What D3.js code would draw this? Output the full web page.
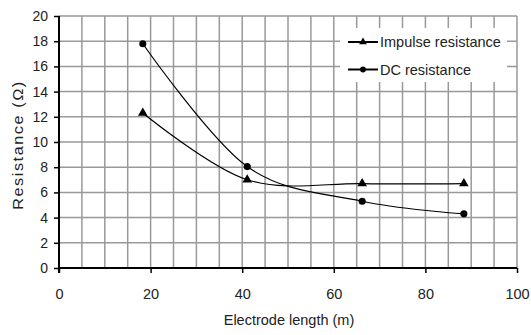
<!DOCTYPE html>
<html>
<head>
<meta charset="utf-8">
<script src="https://cdn.jsdelivr.net/npm/d3@7"></script>
<style>
  body { margin: 0; background: #fff; }
  svg { font-family: "Liberation Sans", Arial, sans-serif; }
</style>
</head>
<body>
<div id="chart"></div>
<script>
// data
const lengths = [18.3, 41.1, 66.2, 88.4];
const impulse = [12.3, 7.0, 6.7, 6.7];
const dcRes = [17.8, 8.05, 5.3, 4.3];
const xTicks = [0, 20, 40, 60, 80, 100];
const yTicks = [0, 2, 4, 6, 8, 10, 12, 14, 16, 18, 20];
const seriesNames = ["Impulse resistance", "DC resistance"];

const width = 531, height = 335;
const margin = {left: 59, right: 14, top: 16, bottom: 67};

const svg = d3.select("#chart").append("svg")
  .attr("width", width)
  .attr("height", height);

const x = d3.scaleLinear().domain([0, 100]).range([margin.left, width - margin.right]);
const y = d3.scaleLinear().domain([0, 20]).range([height - margin.bottom, margin.top]);

// grid
const grid = svg.append("g").attr("stroke", "#999").attr("stroke-width", 1.5);
grid.selectAll("line.v")
  .data(d3.range(5, 101, 5))
  .join("line")
    .attr("class", "v")
    .attr("x1", d => x(d)).attr("x2", d => x(d))
    .attr("y1", y(0)).attr("y2", y(20));
grid.selectAll("line.h")
  .data(yTicks.slice(1))
  .join("line")
    .attr("class", "h")
    .attr("x1", x(0)).attr("x2", x(100))
    .attr("y1", d => y(d)).attr("y2", d => y(d));

// legend background hides grid
const lg = {x: 340, y: 28, w: 167, h: 54};
svg.append("rect")
  .attr("x", lg.x).attr("y", lg.y)
  .attr("width", lg.w).attr("height", lg.h)
  .attr("fill", "#fff");

// axes
const xAxis = svg.append("g")
  .attr("transform", `translate(0,${y(0)})`)
  .call(d3.axisBottom(x).tickValues(xTicks).tickSize(5).tickPadding(16));
const yAxis = svg.append("g")
  .attr("transform", `translate(${x(0)},0)`)
  .call(d3.axisLeft(y).tickValues(yTicks).tickSize(5).tickPadding(6));

[xAxis, yAxis].forEach(a => {
  a.select(".domain").attr("stroke", "#000").attr("stroke-width", 2);
  a.selectAll(".tick line").attr("stroke", "#000").attr("stroke-width", 1.5);
  a.selectAll(".tick text").attr("font-size", 14.5).attr("fill", "#222")
    .attr("font-family", "Liberation Sans, Arial, sans-serif");
});
xAxis.select(".domain").attr("d", `M${x(0)},0H${x(100)}`);
yAxis.select(".domain").attr("d", `M0,${y(0) + 5}V${y(20)}`);
yAxis.selectAll(".tick text").attr("font-size", 14);

// axis titles
svg.append("text")
  .attr("x", 289)
  .attr("y", 325)
  .attr("text-anchor", "middle")
  .attr("font-size", 14.5)
  .attr("fill", "#222")
  .text("Electrode length (m)");
svg.append("text")
  .attr("transform", "translate(23,145) rotate(-90) scale(1.12,1)")
  .attr("text-anchor", "middle")
  .attr("font-size", 14.5)
  .attr("letter-spacing", 1.4)
  .attr("fill", "#222")
  .text("Resistance (\u03A9)");

// series
const line = d3.line()
  .x(d => x(d[0]))
  .y(d => y(d[1]))
  .curve(d3.curveCardinal.tension(0));

const impData = lengths.map((l, i) => [l, impulse[i]]);
const dcData = lengths.map((l, i) => [l, dcRes[i]]);

svg.append("path").datum(impData)
  .attr("d", line).attr("fill", "none").attr("stroke", "#000").attr("stroke-width", 1.2);
svg.append("path").datum(dcData)
  .attr("d", line).attr("fill", "none").attr("stroke", "#000").attr("stroke-width", 1.2);

const tri = d3.symbol().type(d3.symbolTriangle).size(40);
const dot = d3.symbol().type(d3.symbolCircle).size(40);

svg.append("g").selectAll("path")
  .data(impData)
  .join("path")
    .attr("transform", d => `translate(${x(d[0])},${y(d[1])})`)
    .attr("d", tri)
    .attr("fill", "#000");
svg.append("g").selectAll("path")
  .data(dcData)
  .join("path")
    .attr("transform", d => `translate(${x(d[0])},${y(d[1])})`)
    .attr("d", dot)
    .attr("fill", "#000");

// legend
const items = svg.append("g").selectAll("g")
  .data(seriesNames)
  .join("g")
    .attr("transform", (d, i) => `translate(348,${42 + i * 27.5})`);
items.append("line")
  .attr("x1", 0).attr("x2", 30)
  .attr("stroke", "#000").attr("stroke-width", 2);
items.append("path")
  .attr("transform", "translate(15,0)")
  .attr("d", (d, i) => i === 0 ? d3.symbol().type(d3.symbolTriangle).size(26)() : d3.symbol().type(d3.symbolCircle).size(26)())
  .attr("fill", "#000");
items.append("text")
  .attr("x", 32).attr("dy", "0.35em")
  .attr("font-size", 14.5)
  .attr("fill", "#222")
  .text(d => d);
</script>
</body>
</html>
